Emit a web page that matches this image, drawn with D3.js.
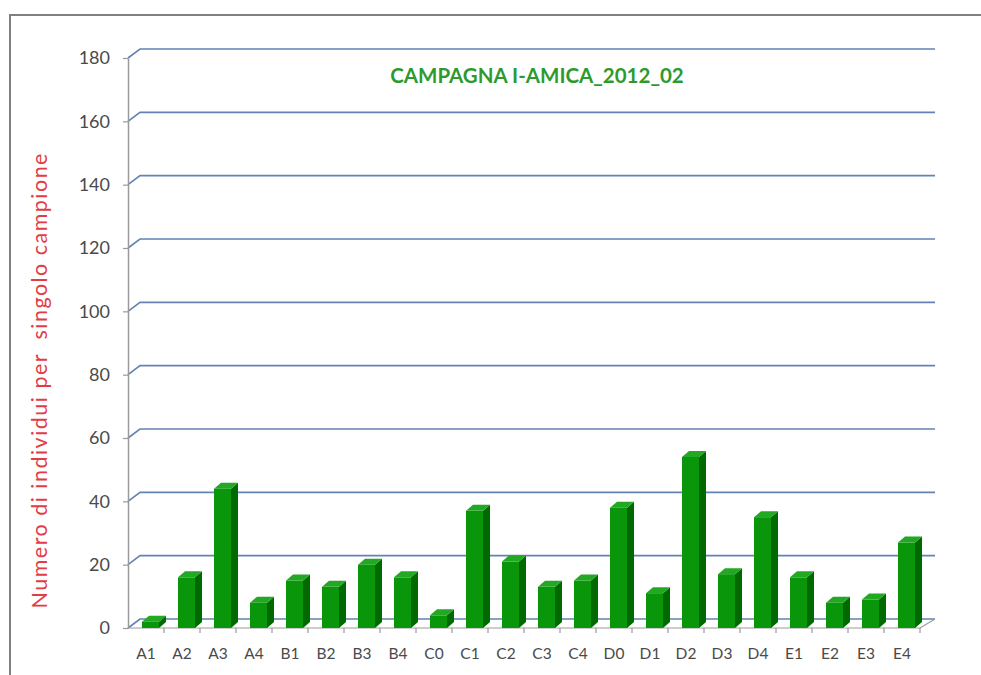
<!DOCTYPE html>
<html>
<head>
<meta charset="utf-8">
<script src="https://cdn.jsdelivr.net/npm/d3@7"></script>
<style>
  body { margin: 0; background: #fff; }
  svg { display: block; font-family: Lato, "Open Sans", sans-serif; }
</style>
</head>
<body>
<svg id="chart" width="981" height="675"></svg>
<script>
var categories = ["A1", "A2", "A3", "A4", "B1", "B2", "B3", "B4", "C0", "C1", "C2", "C3", "C4", "D0", "D1", "D2", "D3", "D4", "E1", "E2", "E3", "E4"];
var values = [2, 16, 44, 8, 15, 13, 20, 16, 4, 37, 21, 13, 15, 38, 11, 54, 17, 35, 16, 8, 9, 27];
var yTicks = [0, 20, 40, 60, 80, 100, 120, 140, 160, 180];
var title = "CAMPAGNA I-AMICA_2012_02";
var yLabel = "Numero di individui per  singolo campione";

var svg = d3.select("#chart");

// frame
svg.append("path")
    .attr("d", "M10,675 L10,15 L981,15")
    .attr("fill", "none")
    .attr("stroke", "#808080")
    .attr("stroke-width", 2);

var x = d3.scaleBand().domain(categories).range([128, 920]);
var y = d3.scaleLinear().domain([0, 180]).range([628, 58]);

var depthX = 12, depthY = -9;   // back wall offset
var barDx = 7, barDy = -6;      // bar depth

// gridlines on the back wall
svg.append("g").selectAll("path").data(yTicks).enter()
    .append("path")
    .attr("d", function(d) {
        return "M128," + y(d) + " L" + (128 + depthX) + "," + (y(d) + depthY) +
               " L935," + (y(d) + depthY);
    })
    .attr("fill", "none")
    .attr("stroke", "#6283b3")
    .attr("stroke-width", 1.6);

// floor front edge and right side
svg.append("path")
    .attr("d", "M128," + y(0) + " L920," + y(0) + " L935," + (y(0) + depthY))
    .attr("fill", "none")
    .attr("stroke", "#9a9a9a")
    .attr("stroke-width", 1.2);

// x boundary ticks
svg.append("g").selectAll("line").data(categories).enter()
    .append("line")
    .attr("x1", function(d) { return x(d) + x.bandwidth(); })
    .attr("x2", function(d) { return x(d) + x.bandwidth(); })
    .attr("y1", y(0))
    .attr("y2", y(0) + 5)
    .attr("stroke", "#9a9a9a")
    .attr("stroke-width", 1.2);

// bars
var bars = svg.append("g").selectAll("g").data(values).enter().append("g");
function x0(i) { return x(categories[i]) + 14; }
function x1(i) { return x(categories[i]) + 31; }

bars.append("rect")
    .attr("x", function(d, i) { return x0(i); })
    .attr("y", function(d) { return y(d); })
    .attr("width", 17)
    .attr("height", function(d) { return y(0) - y(d); })
    .attr("fill", "#0a960a");
bars.append("path")
    .attr("d", function(d, i) {
        return "M" + x1(i) + "," + y(d) + " L" + (x1(i) + barDx) + "," + (y(d) + barDy) +
               " L" + (x1(i) + barDx) + "," + (y(0) + barDy) + " L" + x1(i) + "," + y(0) + "Z";
    })
    .attr("fill", "#006a00");
bars.append("path")
    .attr("d", function(d, i) {
        return "M" + x0(i) + "," + y(d) + " L" + (x0(i) + barDx) + "," + (y(d) + barDy) +
               " L" + (x1(i) + barDx) + "," + (y(d) + barDy) + " L" + x1(i) + "," + y(d) + "Z";
    })
    .attr("fill", "#22a822");

// y axis
var yAxis = svg.append("g")
    .attr("transform", "translate(128,0)")
    .call(d3.axisLeft(y).tickValues(yTicks).tickSize(5).tickPadding(13).tickSizeOuter(0));
yAxis.select(".domain").attr("stroke", "#9a9a9a").attr("stroke-width", 1.5);
yAxis.selectAll(".tick line").attr("stroke", "#9a9a9a").attr("stroke-width", 1.2);
yAxis.selectAll(".tick text")
    .attr("fill", "#4a4a4a")
    .attr("font-size", 18)
    .attr("font-family", "Lato, sans-serif");

// x axis labels
var xAxis = svg.append("g")
    .attr("transform", "translate(0," + y(0) + ")")
    .call(d3.axisBottom(x).tickSize(0).tickPadding(20));
xAxis.select(".domain").remove();
xAxis.selectAll(".tick text")
    .attr("fill", "#4a4a4a")
    .attr("font-size", 15.5)
    .attr("font-family", "Lato, sans-serif");

// title
svg.append("text")
    .attr("x", 537)
    .attr("y", 83)
    .attr("text-anchor", "middle")
    .attr("font-size", 20.5)
    .attr("font-weight", "bold")
    .attr("fill", "#2e9a2e")
    .text(title);

// y label
svg.append("text")
    .attr("transform", "translate(47,381) rotate(-90)")
    .attr("text-anchor", "middle")
    .attr("font-size", 21.5)
    .attr("textLength", 455)
    .attr("lengthAdjust", "spacing")
    .style("white-space", "pre")
    .attr("fill", "#e43c44")
    .text(yLabel);
</script>
</body>
</html>
